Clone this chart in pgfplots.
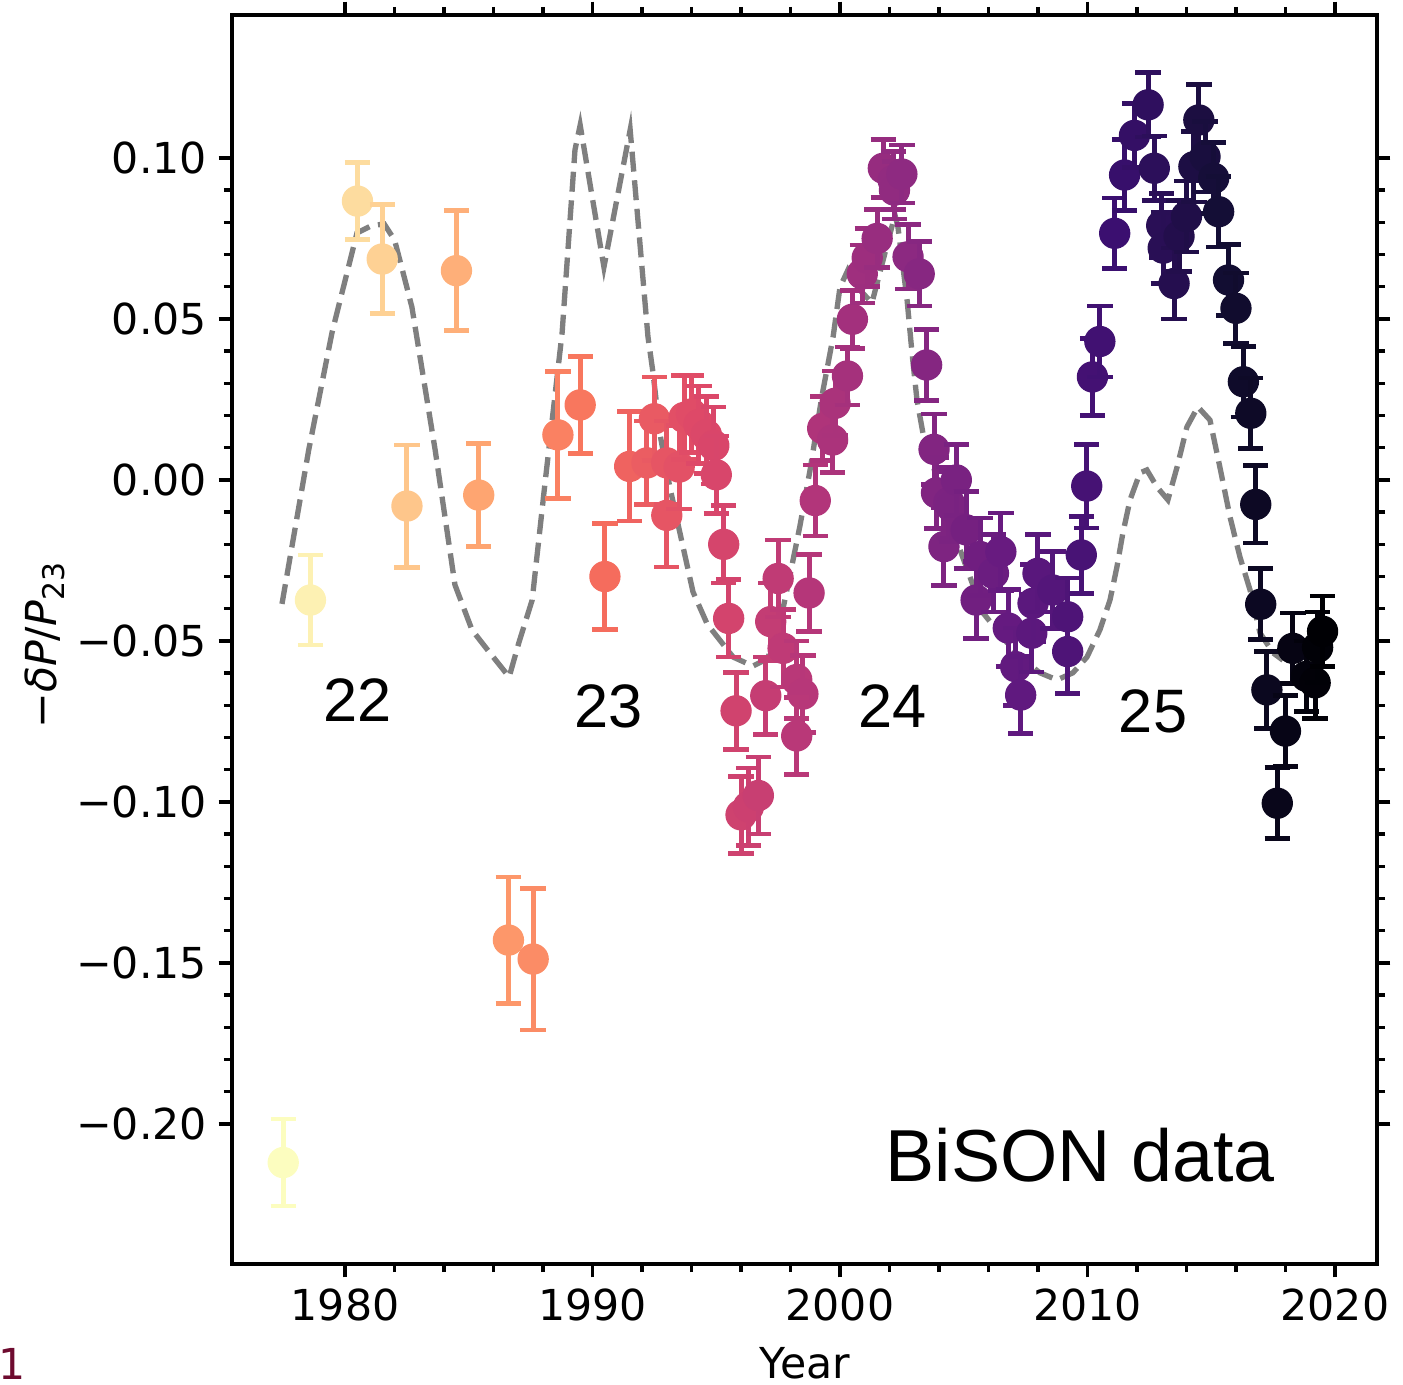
\documentclass[border=0pt]{standalone}
\usepackage{fontspec}
\setmainfont{DejaVu Sans}
\newfontfamily\arialf{Liberation Sans}
\usepackage{pgfplots}
\pgfplotsset{compat=1.18}
\pgfplotsset{colormap={magmar}{rgb255=(252,253,191) rgb255=(254,207,146) rgb255=(254,159,109) rgb255=(247,112,92) rgb255=(222,73,104) rgb255=(183,55,121) rgb255=(140,41,129) rgb255=(100,26,128) rgb255=(59,15,112) rgb255=(20,14,54) rgb255=(0,0,4)}}
\definecolor{pagenum}{HTML}{6E0B2F}
\pgfplotstableread{
x y e
1977.5 -0.212 0.0135
1978.6 -0.0373 0.014
1980.5 0.0866 0.012
1981.5 0.0686 0.017
1982.5 -0.0081 0.019
1984.5 0.065 0.0186
1985.4 -0.0047 0.016
1986.6 -0.1429 0.0196
1987.6 -0.1488 0.022
1988.6 0.014 0.0197
1989.5 0.0233 0.015
1990.5 -0.030 0.0165
1991.5 0.0042 0.017
1992.2 0.0053 0.013
1992.5 0.019 0.013
1993.0 0.0053 0.013
1993.0 -0.011 0.016
1993.5 0.004 0.013
1993.7 0.0194 0.013
1994.0 0.0205 0.012
1994.3 0.0172 0.012
1994.6 0.014 0.012
1994.9 0.0107 0.012
1995.0 0.0016 0.012
1995.3 -0.020 0.012
1995.5 -0.043 0.012
1995.8 -0.0717 0.012
1996.0 -0.104 0.012
1996.3 -0.1015 0.012
1996.7 -0.098 0.012
1997.0 -0.067 0.012
1997.2 -0.044 0.012
1997.5 -0.0306 0.012
1997.7 -0.0523 0.012
1998.25 -0.062 0.012
1998.5 -0.0665 0.012
1998.25 -0.0795 0.012
1998.75 -0.0351 0.012
1999.0 -0.0064 0.011
1999.3 0.016 0.01
1999.7 0.0124 0.01
1999.8 0.0238 0.01
2000.3 0.0323 0.009
2000.5 0.0499 0.009
2000.9 0.064 0.009
2001.1 0.069 0.009
2001.5 0.075 0.009
2001.75 0.0968 0.009
2002.15 0.093 0.009
2002.2 0.090 0.009
2002.5 0.095 0.009
2002.75 0.0693 0.01
2003.2 0.064 0.01
2003.5 0.0357 0.011
2003.8 0.0095 0.011
2003.9 -0.004 0.011
2004.2 -0.0207 0.012
2004.4 -0.007 0.011
2004.5 -0.0083 0.011
2004.7 0.0 0.011
2005.1 -0.0155 0.012
2005.5 -0.0373 0.012
2005.66 -0.0238 0.012
2006.2 -0.029 0.012
2006.5 -0.0223 0.012
2006.8 -0.046 0.012
2007.1 -0.058 0.012
2007.3 -0.0668 0.012
2007.75 -0.0476 0.012
2007.8 -0.0383 0.012
2008.0 -0.029 0.012
2008.6 -0.0342 0.012
2009.2 -0.0425 0.012
2009.2 -0.0533 0.013
2009.75 -0.0233 0.012
2009.97 -0.0019 0.013
2010.2 0.032 0.012
2010.5 0.043 0.011
2011.1 0.0766 0.011
2011.5 0.0947 0.011
2011.9 0.107 0.01
2012.45 0.1165 0.01
2012.7 0.0968 0.01
2013.0 0.079 0.01
2013.06 0.072 0.011
2013.5 0.061 0.011
2013.7 0.0757 0.011
2014.0 0.0818 0.011
2014.3 0.0973 0.011
2014.5 0.1118 0.011
2014.75 0.1004 0.011
2015.1 0.0937 0.011
2015.3 0.0833 0.011
2015.7 0.0621 0.011
2016.0 0.0533 0.011
2016.3 0.0305 0.011
2016.6 0.0207 0.011
2016.8 -0.0076 0.012
2017.0 -0.0386 0.011
2017.25 -0.0652 0.012
2017.67 -0.1004 0.011
2018.0 -0.078 0.011
2018.3 -0.0523 0.011
2018.85 -0.061 0.011
2019.2 -0.063 0.011
2019.3 -0.052 0.011
2019.5 -0.047 0.011
}\bison
\pgfplotstableread{
x y
1977.45 -0.0385
1978.53 0.0093
1979.47 0.0457
1980.48 0.0767
1981.05 0.0789
1981.58 0.0795
1982.0 0.0745
1982.42 0.0621
1982.7 0.0537
1983.64 0.0093
1984.44 -0.0326
1985.13 -0.0466
1985.82 -0.0534
1986.63 -0.0612
1987.02 -0.0506
1987.56 -0.0373
1988.08 -0.0009
1988.77 0.0457
1989.29 0.1025
1989.5 0.1102
1990.46 0.0661
1991.52 0.1087
1992.24 0.0444
1992.44 0.0335
1992.73 0.0140
1993.13 -0.0025
1994.06 -0.0348
1994.63 -0.0447
1995.68 -0.055
1996.48 -0.0578
1997.05 -0.0556
1997.45 -0.0491
1997.98 -0.0295
1998.38 -0.0143
1998.79 0.0031
1999.27 0.0261
1999.72 0.0444
2000.0 0.0599
2000.32 0.0652
2000.8 0.059
2001.29 0.055
2002.22 0.0823
2002.34 0.0786
2002.71 0.0559
2002.91 0.0394
2003.11 0.0248
2003.35 0.0146
2003.64 0.0084
2004.32 -0.0124
2004.85 -0.0217
2005.25 -0.0301
2005.78 -0.0413
2006.99 -0.0528
2007.56 -0.0568
2008.08 -0.0599
2008.77 -0.0621
2009.41 -0.0599
2009.98 -0.055
2010.5 -0.0466
2010.91 -0.0373
2011.19 -0.027
2011.43 -0.0165
2011.72 -0.0062
2012.12 0.0022
2012.4 0.0031
2012.81 -0.0022
2013.25 -0.0062
2013.62 0.004
2014.02 0.0165
2014.46 0.0227
2014.95 0.0186
2015.35 0.004
2015.76 -0.0115
2016.16 -0.0239
2016.57 -0.0342
2016.97 -0.0475
2017.5 -0.0537
2017.9 -0.056
}\model
\begin{document}
\begin{tikzpicture}
\path[use as bounding box] (-69.6pt,-36.3pt) rectangle (351.3pt,379.2pt);
\begin{axis}[
  at={(0,0)}, anchor=south west,
  scale only axis, width=343.5pt, height=374.7pt,
  xmin=1975.43, xmax=2021.7, ymin=-0.2435, ymax=0.1444,
  axis line style={line width=1.1pt},
  tick align=outside, tick pos=both,
  xtick={1980,1990,2000,2010,2020},
  xticklabels={1980,1990,2000,2010,2020},
  minor x tick num=4,
  ytick={-0.2,-0.15,-0.1,-0.05,0,0.05,0.1},
  yticklabels={−0.20,−0.15,−0.10,−0.05,0.00,0.05,0.10},
  minor y tick num=4,
  major tick length=4pt, minor tick length=2.4pt,
  every tick/.style={black, line width=1pt},
  tick label style={font=\fontsize{12.8}{15}\selectfont},
  colormap name=magmar,
  point meta min=1977.5, point meta max=2019.5,
  clip=false,
]
% y error bars, drawn with each point's mapped colour (1 unit of y = 374.7pt/0.3879 = 966.0pt)
\addplot[
  scatter, only marks, mark=*, mark size=4.5pt,
  scatter src=x,
  scatter/use mapped color={draw=mapped color, fill=mapped color},
  visualization depends on={966.0*\thisrow{e} \as \err},
  scatter/@pre marker code/.append code={%
    \draw[line width=1.5pt] (0pt,-\err pt) -- (0pt,\err pt);
    \draw[line width=1.4pt] (-3.8pt,-\err pt) -- (3.8pt,-\err pt);
    \draw[line width=1.4pt] (-3.8pt,\err pt) -- (3.8pt,\err pt);
  },
] table[x=x, y=y] {\bison};
\addplot[black, opacity=0.5, line width=1.6pt, dash pattern=on 6pt off 2.6pt] table[x=x, y=y] {\model};
\node[font=\arialf\fontsize{18.4}{20}\selectfont] at (axis cs:1980.5,-0.0683) {22};
\node[font=\arialf\fontsize{18.4}{20}\selectfont] at (axis cs:1990.63,-0.0702) {23};
\node[font=\arialf\fontsize{18.4}{20}\selectfont] at (axis cs:2002.14,-0.0702) {24};
\node[font=\arialf\fontsize{18.4}{20}\selectfont] at (axis cs:2012.65,-0.072) {25};
\node[font=\arialf\fontsize{22.1}{24}\selectfont] at (axis cs:2009.7,-0.2096) {BiSON data};
\end{axis}
\node[font=\fontsize{12.8}{15}\selectfont, inner sep=0pt] at (171.9pt,-29.9pt) {Year};
\node[font=\fontsize{12.8}{15}\selectfont, rotate=90] at (-56.1pt,185.7pt) {−\textit{δP}/\textit{P}\textsubscript{23}};
\node[font=\fontsize{12.8}{15}\selectfont, text=pagenum, inner sep=0pt] at (-66pt,-29.9pt) {1};
\end{tikzpicture}
\end{document}
